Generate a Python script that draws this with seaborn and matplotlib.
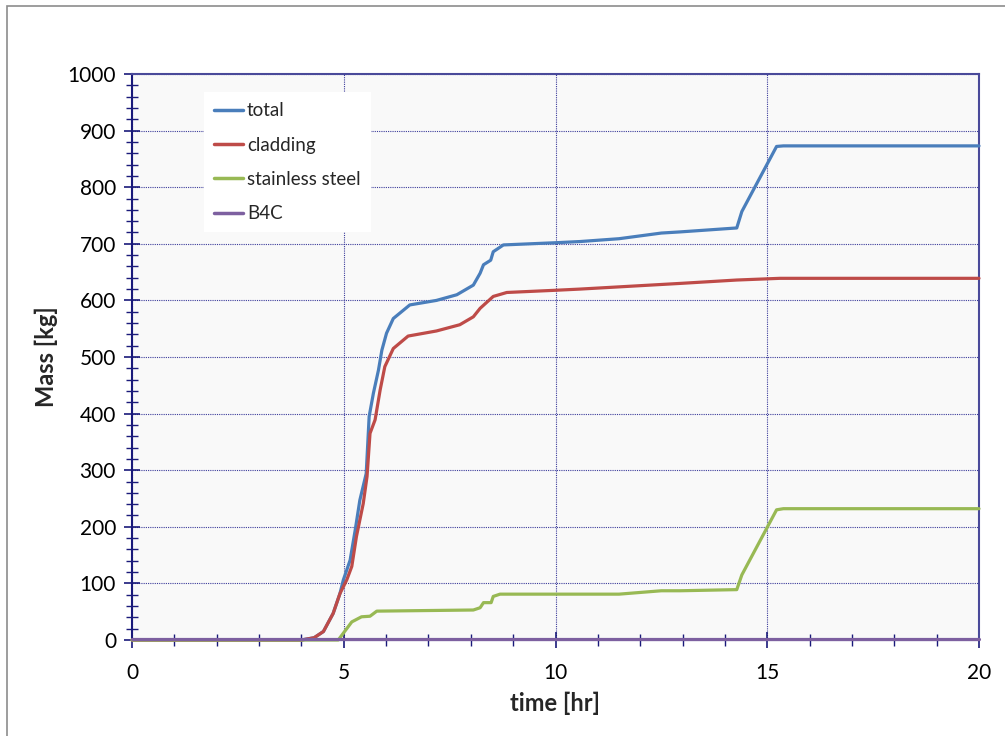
import numpy as np
import pandas as pd
import matplotlib
matplotlib.use("Agg")
import matplotlib.pyplot as plt
import seaborn as sns
from matplotlib.patches import Rectangle
from matplotlib.ticker import MultipleLocator

# ---- data ----
total_t = [0, 4.0, 4.3, 4.52, 4.75, 4.91, 4.99, 5.15, 5.27, 5.38, 5.53, 5.60, 5.70, 5.82, 5.90,
           6.01, 6.17, 6.56, 7.19, 7.67, 8.06, 8.22, 8.30, 8.47, 8.53, 8.77, 10.03, 10.58,
           11.5, 12.5, 12.94, 14.28, 14.40, 15.22, 15.38, 20]
total_m = [0, 0, 4, 15, 47, 82, 106, 141, 194, 247, 294, 395, 436, 477, 512,
           542, 568, 592, 600, 610, 627, 648, 663, 671, 686, 698, 702, 704,
           709, 719, 721, 728, 757, 872, 873, 873]

clad_t = [0, 4.0, 4.3, 4.52, 4.75, 4.91, 5.07, 5.19, 5.30, 5.46, 5.55, 5.62, 5.74, 5.86, 5.97,
          6.17, 6.52, 7.19, 7.74, 8.06, 8.22, 8.53, 8.85, 10.03, 10.58, 12.94, 14.28, 15.30, 20]
clad_m = [0, 0, 4, 15, 47, 82, 106, 130, 183, 241, 289, 365, 389, 442, 483,
          515, 537, 546, 557, 571, 586, 607, 614, 618, 620, 630, 636, 639, 639]

ss_t = [0, 4.87, 5.19, 5.42, 5.62, 5.78, 8.06, 8.22, 8.30, 8.48, 8.53, 8.69, 10.58, 11.5,
        12.5, 12.94, 14.28, 14.40, 15.22, 15.38, 20]
ss_m = [0, 0, 32, 41, 42, 51, 53, 57, 66, 66, 77, 81, 81, 81,
        87, 87, 89, 115, 230, 232, 232]

b4c_t = [0, 20]
b4c_m = [1, 1]

series_names = ["total", "cladding", "stainless steel", "B4C"]
colors = ["#4a7ebb", "#be4b48", "#98b954", "#7d60a0"]

frames = []
for name, t, m in zip(series_names, [total_t, clad_t, ss_t, b4c_t], [total_m, clad_m, ss_m, b4c_m]):
    frames.append(pd.DataFrame({"time": t, "mass": m, "series": name}))
df = pd.concat(frames, ignore_index=True)

# ---- style ----
sns.set_theme(style="ticks")
plt.rcParams["font.family"] = ["Lato", "DejaVu Sans"]

fig = plt.figure(figsize=(10.05, 7.36), dpi=100)
fig.patch.set_facecolor("white")
ax = fig.add_axes([132 / 1005, 1 - 640 / 736, 847 / 1005, 566 / 736])
ax.set_facecolor("#f9f9f9")

sns.lineplot(data=df, x="time", y="mass", hue="series", hue_order=series_names,
             palette=colors, linewidth=2.3, estimator=None, sort=False, ax=ax,
             legend=True)
for line in ax.get_lines():
    line.set_zorder(3)
    line.set_clip_on(False)

ax.set_xlim(0, 20)
ax.set_ylim(0, 1000)
ax.xaxis.set_major_locator(MultipleLocator(5))
ax.xaxis.set_minor_locator(MultipleLocator(1))
ax.yaxis.set_major_locator(MultipleLocator(100))
ax.yaxis.set_minor_locator(MultipleLocator(20))

navy = "#1a1a7a"
ax.grid(True, which="major", color="#3b3b9b", linestyle=(0, (1, 1)), linewidth=0.8)
ax.set_axisbelow(True)

for side in ["left", "bottom"]:
    ax.spines[side].set_color(navy)
    ax.spines[side].set_linewidth(1.5)
for side in ["top", "right"]:
    ax.spines[side].set_color("#4a4a9a")
    ax.spines[side].set_linewidth(1.5)

ax.tick_params(axis="both", which="major", direction="inout", length=11, width=1.2,
               color=navy, labelsize=15, labelcolor="black")
ax.tick_params(axis="both", which="minor", direction="inout", length=8, width=1.0, color=navy)
ax.tick_params(axis="x", which="major", pad=11)
ax.tick_params(axis="y", which="major", pad=6)

ax.set_xlabel("time [hr]", fontsize=17, fontweight="bold", labelpad=6)
ax.set_ylabel("Mass [kg]", fontsize=17, fontweight="bold", labelpad=7)

leg = ax.legend(loc="upper left", bbox_to_anchor=(0.085, 0.968), frameon=True,
                fancybox=False, facecolor="white", edgecolor="none", framealpha=1,
                fontsize=13.5, handlelength=1.55, handletextpad=0.2, labelspacing=0.92,
                borderpad=0.55, borderaxespad=0)
for line in leg.get_lines():
    line.set_linewidth(2.5)

# outer chart border
fig.patches.append(Rectangle((7 / 1005, -0.01), 1.02, 1 - 6 / 736 + 0.01, transform=fig.transFigure,
                             fill=False, edgecolor="#8c8c8c", linewidth=1.2, zorder=-1))

fig.savefig("out.png", dpi=100, facecolor="white")
